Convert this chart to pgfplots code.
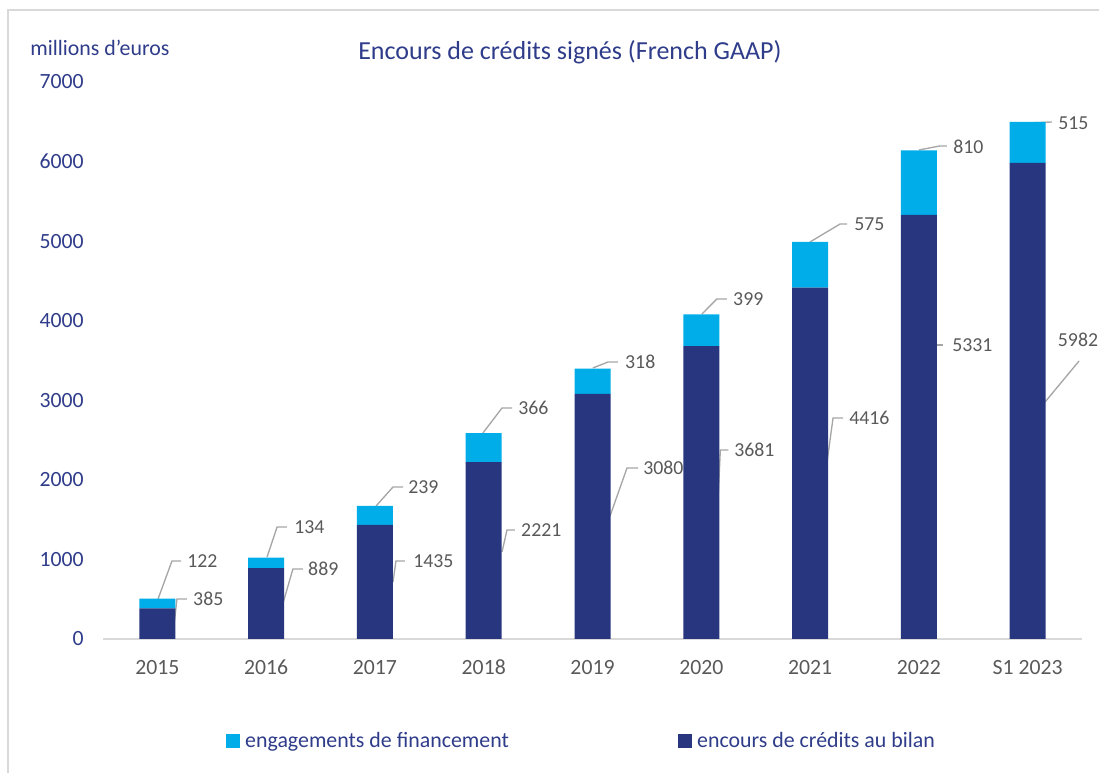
\documentclass[border=0pt]{standalone}
\usepackage{fontspec}
\setmainfont{Carlito}
\usepackage{pgfplots}
\pgfplotsset{compat=1.18}

\definecolor{navybar}{RGB}{40,54,128}
\definecolor{bluebar}{RGB}{0,173,233}
\definecolor{navytext}{RGB}{47,60,138}
\definecolor{labgray}{RGB}{89,89,89}
\definecolor{leadgray}{RGB}{166,166,166}
\definecolor{linegray}{RGB}{217,217,217}

\pgfplotstableread{
x encours engagements
0 385  122
1 889  134
2 1435 239
3 2221 366
4 3080 318
5 3681 399
6 4416 575
7 5331 810
8 5982 515
}\credits

\begin{document}
\begin{tikzpicture}[
    leader/.style={draw=leadgray, line width=1pt},
    lbl/.style={inner sep=0pt, anchor=west, text=labgray, font=\fontsize{14.85}{17}\selectfont}
  ]
  \begin{axis}[
      name=ax,
      scale only axis,
      width=734.25pt, height=417.75pt,
      ybar stacked,
      bar width=0.331,
      xmin=-0.5, xmax=8.5,
      ymin=0, ymax=7000,
      clip=false,
      axis x line*=bottom,
      axis y line*=left,
      y axis line style={draw=none},
      x axis line style={draw=linegray, line width=1.1pt},
      major tick length=0pt,
      xtick={0,...,8},
      xticklabels={2015,2016,2017,2018,2019,2020,2021,2022,S1 2023},
      ytick={0,1000,...,7000},
      scaled y ticks=false,
      /pgf/number format/1000 sep={},
      /pgf/number format/assume math mode=true,
      xticklabel style={inner sep=0pt, anchor=base, yshift=-27pt,
        text=labgray, font=\fontsize{16.3}{19}\selectfont},
      yticklabel style={inner sep=0pt, anchor=east, xshift=-14.25pt,
        text=navytext, font=\fontsize{16.3}{19}\selectfont},
      reverse legend,
      legend columns=2,
      legend style={
        at={(0.1256,-0.183)}, anchor=west,
        draw=none, fill=none, inner sep=0pt,
        nodes={inner sep=0pt, text=navytext},
        font=\fontsize{16.4}{19}\selectfont,
        /tikz/every odd column/.append style={column sep=3.75pt},
        /tikz/every even column/.append style={column sep=127pt},
      },
      legend image code/.code={\fill[#1] (0pt,-5.25pt) rectangle (10.5pt,5.25pt);},
    ]
    \addplot[fill=navybar, draw=none] table[x=x, y=encours] {\credits};
    \addlegendentry{encours de crédits au bilan}
    \addplot[fill=bluebar, draw=none] table[x=x, y=engagements] {\credits};
    \addlegendentry{engagements de financement}

    % frame, title, unit
    \draw[linegray, line width=1.5pt] (8.8,7905) -- (-1.373,7905) -- (-1.373,-1800);
    \node[anchor=base, text=navytext, inner sep=0pt, font=\fontsize{19.5}{23}\selectfont]
      at (3.792,7276) {Encours de crédits signés (French GAAP)};
    \node[anchor=base west, text=navytext, inner sep=0pt, font=\fontsize{16.4}{19}\selectfont]
      at (-1.171,7327) {millions d'euros};

    % data labels with leader lines
    \draw[leader] (0.006,503) -- (0.134,980) -- (0.217,980);
    \node[lbl] at (0.272,980) {122};
    \draw[leader] (0.153,176) -- (0.180,503) -- (0.272,503);
    \node[lbl] at (0.327,503) {385};
    \draw[leader] (1.008,1030) -- (1.100,1407) -- (1.191,1407);
    \node[lbl] at (1.256,1407) {134};
    \draw[leader] (1.155,452) -- (1.246,880) -- (1.338,880);
    \node[lbl] at (1.384,880) {889};
    \draw[leader] (2.010,1671) -- (2.166,1910) -- (2.258,1910);
    \node[lbl] at (2.304,1910) {239};
    \draw[leader] (2.166,716) -- (2.193,980) -- (2.276,980);
    \node[lbl] at (2.350,980) {1435};
    \draw[leader] (2.993,2589) -- (3.168,2903) -- (3.260,2903);
    \node[lbl] at (3.315,2903) {366};
    \draw[leader] (3.168,1093) -- (3.214,1370) -- (3.287,1370);
    \node[lbl] at (3.342,1370) {2221};
    \draw[leader] (4.004,3406) -- (4.143,3481) -- (4.234,3481);
    \node[lbl] at (4.298,3481) {318};
    \draw[leader] (4.161,1546) -- (4.317,2149) -- (4.419,2149);
    \node[lbl] at (4.464,2149) {3080};
    \draw[leader] (5.006,4084) -- (5.144,4273) -- (5.236,4273);
    \node[lbl] at (5.291,4273) {399};
    \draw[leader] (5.157,1835) -- (5.175,2375) -- (5.249,2375);
    \node[lbl] at (5.301,2375) {3681};
    \draw[leader] (5.999,4989) -- (6.276,5215) -- (6.340,5215);
    \node[lbl] at (6.404,5215) {575};
    \draw[leader] (6.155,2212) -- (6.211,2777) -- (6.303,2777);
    \node[lbl] at (6.358,2777) {4416};
    \draw[leader] (7.001,6145) -- (7.194,6196) -- (7.258,6196);
    \node[lbl] at (7.314,6180) {810};
    \draw[leader] (7.149,2664) -- (7.149,3695) -- (7.222,3695);
    \node[lbl] at (7.305,3695) {5331};
    \draw[leader] (8.003,6485) -- (8.224,6497);
    \node[lbl] at (8.280,6485) {515};
    \draw[leader] (8.160,2978) -- (8.473,3494);
    \node[lbl, anchor=center] at (8.463,3758) {5982};

    \coordinate (bbsw) at (-1.447,-1684);
    \coordinate (bbne) at (8.656,8030);
  \end{axis}
  \pgfresetboundingbox
  \path[use as bounding box] (bbsw) rectangle (bbne);
\end{tikzpicture}
\end{document}
